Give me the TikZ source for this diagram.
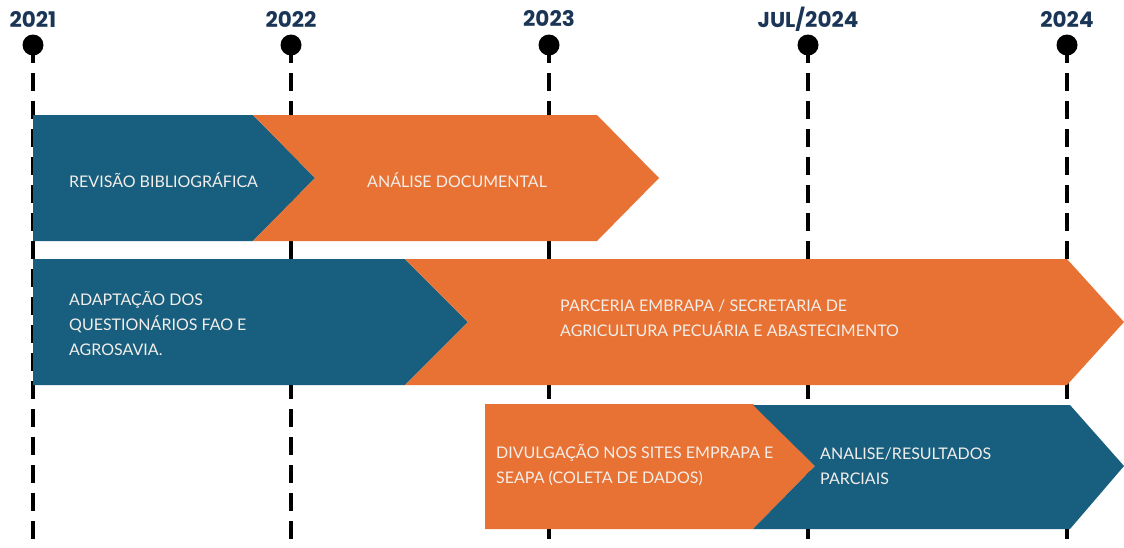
\documentclass[tikz,border=0pt]{standalone}
\usepackage{fontspec}
\setmainfont{Lato}
\newfontfamily\anofont{Poppins}
\definecolor{azul}{HTML}{185F7F}
\definecolor{laranja}{HTML}{E87234}
\definecolor{marinho}{HTML}{1B3556}
\definecolor{texto}{HTML}{F3EEEA}
\tikzset{
  ano/.style={font=\anofont\bfseries\fontsize{21.5}{21.5}\selectfont,text=marinho},
  ponto/.style={circle,fill=black,inner sep=0pt,minimum size=21pt},
  marco/.style={line width=3.5pt,dash pattern=on 18pt off 10pt},
  rotulo/.style={anchor=west,align=left,text=texto,inner sep=0pt,
    font=\fontsize{16}{25}\selectfont}
}
\begin{document}
\begin{tikzpicture}[x=1pt,y=-1pt]
  \useasboundingbox (0,0) rectangle (1124,547);
  % anos
  \node[ano] (a2021) at (33,19) {2021};
  \node[ano] (a2022) at (291,19) {2022};
  \node[ano] (a2023) at (549,19) {2023};
  \node[ano] (ajul) at (808,19) {JUL/2024};
  \node[ano] (a2024) at (1067,19) {2024};
  \node[ponto] (p2021) at (33,45) {};
  \node[ponto] (p2022) at (291,45) {};
  \node[ponto] (p2023) at (549,45) {};
  \node[ponto] (pjul) at (808,45) {};
  \node[ponto] (p2024) at (1067,45) {};
  \coordinate (f2021) at (33,547);
  \coordinate (f2022) at (291,547);
  \coordinate (f2023) at (549,547);
  \coordinate (fjul) at (808,547);
  \coordinate (f2024) at (1067,547);
  \draw[marco] (p2021.center) -- (f2021);
  \draw[marco] (p2022.center) -- (f2022);
  \draw[marco] (p2023.center) -- (f2023);
  \draw[marco] (pjul.center) -- (fjul);
  \draw[marco] (p2024.center) -- (f2024);
  % primeira faixa
  \fill[azul] (33,115) -- (253,115) -- (315,178) -- (253,241) -- (33,241) -- cycle;
  \fill[laranja] (253,115) -- (597,115) -- (659,178) -- (597,241) -- (253,241) -- (315,178) -- cycle;
  \node[rotulo] (revisao) at (69,180) {REVISÃO BIBLIOGRÁFICA};
  \node[rotulo] (analise) at (367,180) {ANÁLISE DOCUMENTAL};
  % segunda faixa
  \fill[azul] (33,259) -- (405,259) -- (468,322) -- (405,385) -- (33,385) -- cycle;
  \fill[laranja] (405,259) -- (1067,259) -- (1124,322) -- (1067,385) -- (405,385) -- (468,322) -- cycle;
  \node[rotulo] (adaptacao) at (69,323) {ADAPTAÇÃO DOS\\QUESTIONÁRIOS FAO E\\AGROSAVIA.};
  \node[rotulo] (parceria) at (560,318) {PARCERIA EMBRAPA / SECRETARIA DE\\AGRICULTURA PECUÁRIA E ABASTECIMENTO};
  % terceira faixa
  \fill[laranja] (485,404) -- (753,404) -- (815,466) -- (753,529) -- (485,529) -- cycle;
  \fill[azul] (753,405) -- (1070,405) -- (1124,466) -- (1070,529) -- (753,529) -- (815,466) -- cycle;
  \node[rotulo] (divulgacao) at (496,465) {DIVULGAÇÃO NOS SITES EMPRAPA E\\SEAPA (COLETA DE DADOS)};
  \node[rotulo] (resultados) at (820,466) {ANALISE/RESULTADOS\\PARCIAIS};
\end{tikzpicture}
\end{document}
